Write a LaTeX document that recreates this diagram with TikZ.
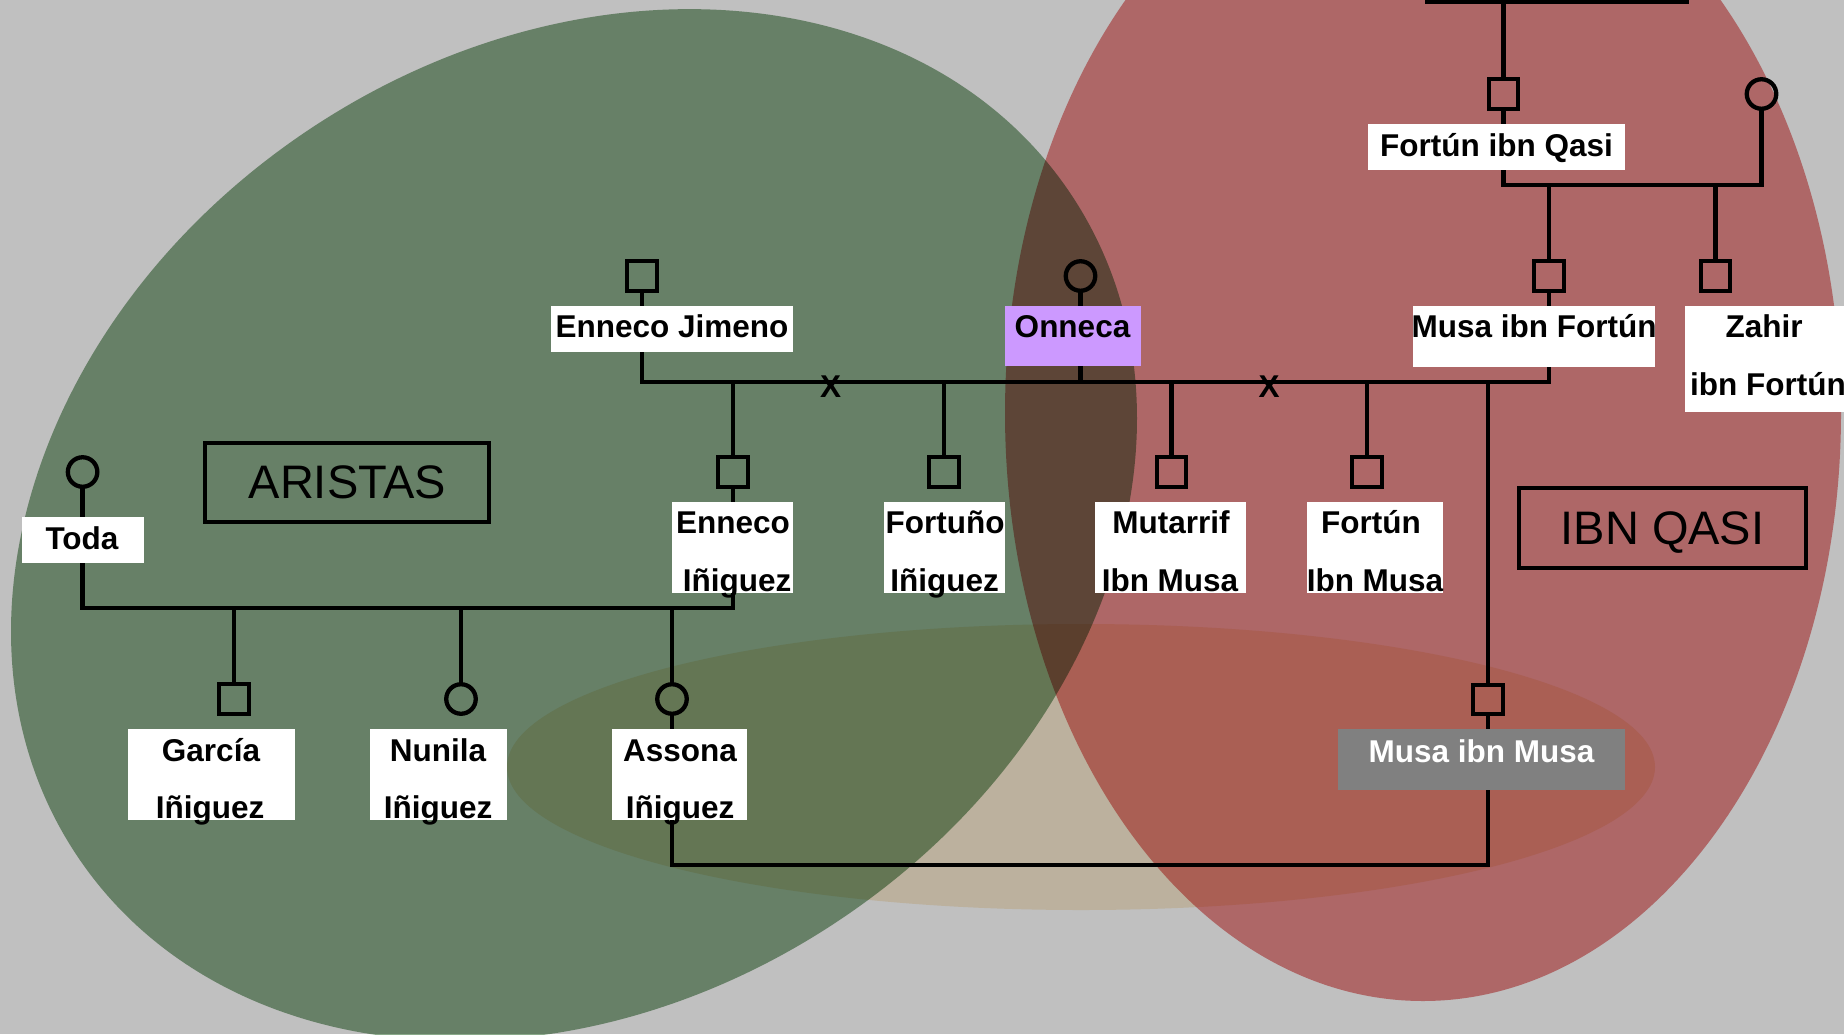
\documentclass[tikz,border=0pt]{standalone}
\usepackage{fontspec}
\setmainfont{Liberation Sans}
\definecolor{bggray}{RGB}{192,192,192}
\definecolor{gmul}{RGB}{138,170,138}
\definecolor{rmul}{RGB}{232,138,138}
\definecolor{tmul}{RGB}{250,236,210}
\definecolor{onpurple}{RGB}{204,153,255}
\definecolor{mmgray}{RGB}{128,128,128}
\begin{document}
\begin{tikzpicture}[x=1pt,y=-1pt,
  sym/.style={draw=black, line width=4.3pt, inner sep=0pt, minimum size=29.5pt},
  male/.style={sym, rectangle},
  female/.style={sym, circle},
  conn/.style={line width=4.6pt, line cap=rect, line join=miter},
  lbox/.style={fill=white, inner sep=0pt, rectangle},
  txt/.style={inner sep=0pt, anchor=base, font=\fontsize{31.5}{37}\selectfont\bfseries},
  xmark/.style={inner sep=0pt, font=\fontsize{31.5}{37}\selectfont\bfseries},
  clan/.style={draw=black, line width=4pt, inner sep=0pt, rectangle},
  clantxt/.style={inner sep=0pt, anchor=base, font=\fontsize{47}{56}\selectfont}]
\useasboundingbox (0,0) rectangle (1844,1034);
\clip (0,0) rectangle (1844,1034);
\fill[bggray] (0,0) rectangle (1844,1034);
% clan ellipses
\begin{scope}[blend mode=multiply]
  \fill[gmul, rotate around={33.5:(574,525)}] (574,525) ellipse [x radius=597pt, y radius=476pt];
  \fill[rmul] (1423,413) ellipse [x radius=418pt, y radius=588pt];
  \fill[tmul] (1081,767) ellipse [x radius=574pt, y radius=143pt];
\end{scope}
% clan titles
\node[clan, minimum width=284.5pt, minimum height=79pt] (aristas) at (346.75,482.5) {};
\node[clantxt] (aristast) at (347.5,498) {ARISTAS};
\node[clan, minimum width=287pt, minimum height=80.3pt] (ibnqasi) at (1662.8,527.9) {};
\node[clantxt] (ibnqasit) at (1662.5,544) {IBN QASI};
% persons
\node[male]   (fq)  at (1503.5,94) {};
\node[female] (fqw) at (1761.5,94) {};
\node[male]   (mf)  at (1549,276) {};
\node[male]   (zf)  at (1715.5,276) {};
\node[male]   (ej)  at (642,276) {};
\node[female] (on)  at (1080.5,276) {};
\node[male]   (ei)  at (733,472) {};
\node[male]   (fi)  at (944,472) {};
\node[male]   (mu)  at (1171.5,472) {};
\node[male]   (fm)  at (1367,472) {};
\node[female] (to)  at (82.6,472) {};
\node[male]   (ga)  at (234,699) {};
\node[female] (nu)  at (461,699) {};
\node[female] (as)  at (672,699) {};
\node[male]   (mm)  at (1488,699.5) {};
% junctions
\coordinate (ftl) at (1427,2);
\coordinate (ftr) at (1687,2);
\coordinate (m1) at (1503.5,185);
\coordinate (m2) at (642,382);
\coordinate (m4) at (82.6,608);
\coordinate (m5) at (672,865);
% connectors
\draw[conn] (ftl) -- (ftr);
\draw[conn] (fq.north |- ftl) -- (fq.north);
\draw[conn] (fq.south) -- (m1) -| (fqw.south);
\draw[conn] (mf.north |- m1) -- (mf.north);
\draw[conn] (zf.north |- m1) -- (zf.north);
\draw[conn] (ej.south) -- (m2) -| (on.south);
\draw[conn] (on.south |- m2) -| (mf.south);
\draw[conn] (ei.north |- m2) -- (ei.north);
\draw[conn] (fi.north |- m2) -- (fi.north);
\draw[conn] (mu.north |- m2) -- (mu.north);
\draw[conn] (fm.north |- m2) -- (fm.north);
\draw[conn] (mm.north |- m2) -- (mm.north);
\draw[conn] (to.south) -- (m4) -| (ei.south);
\draw[conn] (ga.north |- m4) -- (ga.north);
\draw[conn] (nu.north |- m4) -- (nu.north);
\draw[conn] (as.north |- m4) -- (as.north);
\draw[conn] (as.south) -- (m5) -| (mm.south);
% divorce marks
\node[xmark] (x1) at (830.7,386.5) {X};
\node[xmark] (x2) at (1269,386.5) {X};
% label boxes
\node[lbox, minimum width=257pt, minimum height=46pt] (fql) at (1496.5,147) {};
\node[lbox, minimum width=242pt, minimum height=61pt] (mfl) at (1534,336.5) {};
\node[lbox, minimum width=162pt, minimum height=106pt] (zfl) at (1766,359) {};
\node[lbox, minimum width=242pt, minimum height=46pt] (ejl) at (672,329) {};
\node[lbox, fill=onpurple, minimum width=136pt, minimum height=60pt] (onl) at (1073,336) {};
\node[lbox, minimum width=121pt, minimum height=91pt] (eil) at (732.5,547.5) {};
\node[lbox, minimum width=121pt, minimum height=91pt] (fil) at (944.5,547.5) {};
\node[lbox, minimum width=151pt, minimum height=91pt] (mul) at (1170.5,547.5) {};
\node[lbox, minimum width=136pt, minimum height=91pt] (fml) at (1375,547.5) {};
\node[lbox, minimum width=122pt, minimum height=46pt] (tol) at (83,540) {};
\node[lbox, minimum width=167pt, minimum height=91pt] (gal) at (211.5,774.5) {};
\node[lbox, minimum width=137pt, minimum height=91pt] (nul) at (438.5,774.5) {};
\node[lbox, minimum width=135pt, minimum height=91pt] (asl) at (679.5,774.5) {};
\node[lbox, fill=mmgray, minimum width=287pt, minimum height=61pt] (mml) at (1481.5,759.5) {};
% label texts
\node[txt] (fqt) at (1496.5,156) {Fortún ibn Qasi};
\node[txt] (mft) at (1534,337) {Musa ibn Fortún};
\node[txt] (zft1) at (1764,337) {Zahir};
\node[txt] (zft2) at (1768,395) {ibn Fortún};
\node[txt] (ejt) at (672,337) {Enneco Jimeno};
\node[txt] (ont) at (1072.5,337) {Onneca};
\node[txt] (eit1) at (733,533) {Enneco};
\node[txt] (eit2) at (737,591) {Iñiguez};
\node[txt] (fit1) at (945,533) {Fortuño};
\node[txt] (fit2) at (944.5,591) {Iñiguez};
\node[txt] (mut1) at (1171,533) {Mutarrif};
\node[txt] (mut2) at (1170,591) {Ibn Musa};
\node[txt] (fmt1) at (1371,533) {Fortún};
\node[txt] (fmt2) at (1375,591) {Ibn Musa};
\node[txt] (tot) at (82,549) {Toda};
\node[txt] (gat1) at (211,761) {García};
\node[txt] (gat2) at (210,818.5) {Iñiguez};
\node[txt] (nut1) at (438,761) {Nunila};
\node[txt] (nut2) at (438,818.5) {Iñiguez};
\node[txt] (ast1) at (680,761) {Assona};
\node[txt] (ast2) at (680,818.5) {Iñiguez};
\node[txt, text=white] (mmt) at (1481.6,762) {Musa ibn Musa};
\end{tikzpicture}
\end{document}
